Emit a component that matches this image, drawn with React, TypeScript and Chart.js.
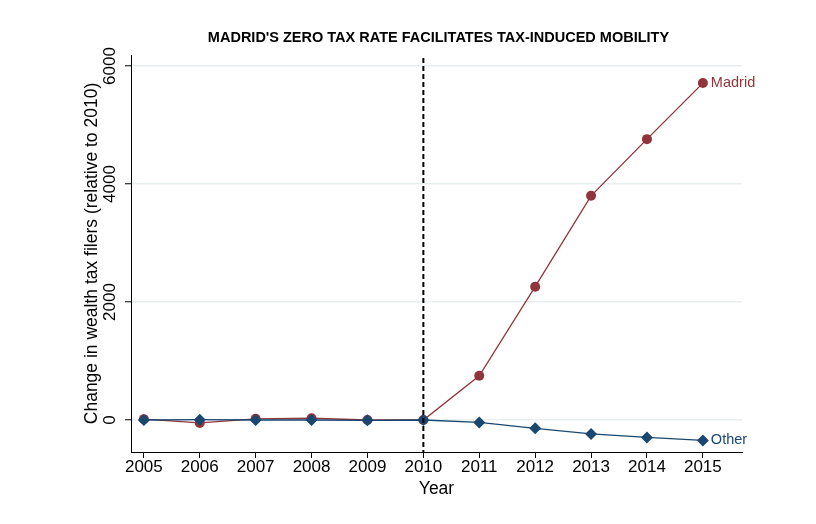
import React, { useEffect, useRef } from "react";
import { Chart, registerables } from "chart.js";

Chart.register(...registerables);

const years = [2005, 2006, 2007, 2008, 2009, 2010, 2011, 2012, 2013, 2014, 2015];
const madrid = [15, -50, 20, 30, 0, 0, 750, 2260, 3800, 4760, 5710];
const other = [0, 5, 0, 0, -5, 0, -40, -140, -235, -295, -345];
const yTicks = [0, 2000, 4000, 6000];
const title = "MADRID'S ZERO TAX RATE FACILITATES TAX-INDUCED MOBILITY";
const yTitle = "Change in wealth tax filers (relative to 2010)";
const xTitle = "Year";
const policyYear = 2010;

const MAROON = "#90353b";
const NAVY = "#1a476f";
const FONT = "'Liberation Sans', Arial, sans-serif";

export default function App() {
  const ref = useRef<HTMLCanvasElement | null>(null);
  useEffect(() => {
    if (!ref.current) return;
    const overlay = {
      id: "overlay",
      afterDraw(chart: any) {
        const { ctx, chartArea, scales } = chart;
        const xs = scales.x;
        const ys = scales.y;
        ctx.save();
        // title
        ctx.fillStyle = "#000";
        ctx.font = `bold 14.5px ${FONT}`;
        ctx.textAlign = "center";
        ctx.textBaseline = "middle";
        ctx.fillText(title, (chartArea.left + chartArea.right) / 2 + 2, 38);
        // rotated y tick labels
        ctx.font = `17px ${FONT}`;
        for (const t of yTicks) {
          const py = ys.getPixelForValue(t);
          ctx.save();
          ctx.translate(110, py);
          ctx.rotate(-Math.PI / 2);
          ctx.textAlign = "center";
          ctx.textBaseline = "middle";
          ctx.fillText(String(t), 0, 0);
          ctx.restore();
        }
        // dashed policy line
        const px = xs.getPixelForValue(policyYear);
        ctx.strokeStyle = "#000";
        ctx.lineWidth = 2;
        ctx.setLineDash([5, 3]);
        ctx.beginPath();
        ctx.moveTo(px, chartArea.top + 3);
        ctx.lineTo(px, chartArea.bottom);
        ctx.stroke();
        ctx.setLineDash([]);
        // series labels
        ctx.font = `14.5px ${FONT}`;
        ctx.textAlign = "left";
        ctx.textBaseline = "middle";
        const lastX = xs.getPixelForValue(years[years.length - 1]);
        ctx.fillStyle = MAROON;
        ctx.fillText("Madrid", lastX + 8, ys.getPixelForValue(madrid[madrid.length - 1]));
        ctx.fillStyle = NAVY;
        ctx.fillText("Other", lastX + 8, ys.getPixelForValue(other[other.length - 1]));
        ctx.restore();
      },
    };
    const chart = new Chart(ref.current, {
      type: "line",
      data: {
        datasets: [
          {
            label: "Other",
            data: years.map((x, i) => ({ x, y: other[i] })),
            borderColor: NAVY,
            backgroundColor: NAVY,
            borderWidth: 1.3,
            pointStyle: "rectRot",
            pointRadius: 6,
            pointBorderWidth: 0,
            tension: 0,
          },
          {
            label: "Madrid",
            data: years.map((x, i) => ({ x, y: madrid[i] })),
            borderColor: MAROON,
            backgroundColor: MAROON,
            borderWidth: 1.3,
            pointStyle: "circle",
            pointRadius: 5,
            pointBorderWidth: 0,
            tension: 0,
          },
        ],
      },
      options: {
        animation: false,
        responsive: false,
        maintainAspectRatio: false,
        layout: { padding: { top: 55, right: 74, left: 0, bottom: 0 } },
        plugins: {
          legend: { display: false },
          tooltip: { enabled: false },
          title: { display: false },
        },
        scales: {
          x: {
            type: "linear",
            min: 2004.77,
            max: 2015.7,
            afterBuildTicks: (s: any) => {
              s.ticks = years.map((v) => ({ value: v }));
            },
            afterFit: (s: any) => {
              s.height = 72;
            },
            grid: {
              drawOnChartArea: false,
              drawTicks: true,
              tickLength: 6,
              tickColor: "#000",
              tickWidth: 1,
            },
            border: { display: true, color: "#000", width: 1 },
            ticks: {
              color: "#000",
              font: { family: FONT, size: 17 },
              padding: -1,
              maxRotation: 0,
              autoSkip: false,
              callback: (v: any) => String(v),
            },
            title: {
              display: true,
              text: xTitle,
              color: "#000",
              font: { family: FONT, size: 17.5 },
              padding: { top: 0, bottom: 24.5 },
            },
          },
          y: {
            type: "linear",
            min: -542,
            max: 6186,
            afterBuildTicks: (s: any) => {
              s.ticks = yTicks.map((v) => ({ value: v }));
            },
            afterFit: (s: any) => {
              s.width = 131;
            },
            grid: {
              color: "#e8eff1",
              lineWidth: 1.5,
              drawTicks: true,
              tickLength: 6,
              tickColor: "#000",
              tickWidth: 1,
            },
            border: { display: true, color: "#000", width: 1 },
            ticks: { display: false },
            title: {
              display: true,
              text: yTitle,
              color: "#000",
              font: { family: FONT, size: 17.5 },
              padding: { top: 81.5, bottom: 0 },
            },
          },
        },
      },
      plugins: [overlay],
    } as any);
    return () => chart.destroy();
  }, []);
  return (
    <div style={{ position: "fixed", left: 0, top: 0, width: 816, height: 524, background: "#fff" }}>
      <canvas ref={ref} width={816} height={524} style={{ width: 816, height: 524 }} />
    </div>
  );
}
